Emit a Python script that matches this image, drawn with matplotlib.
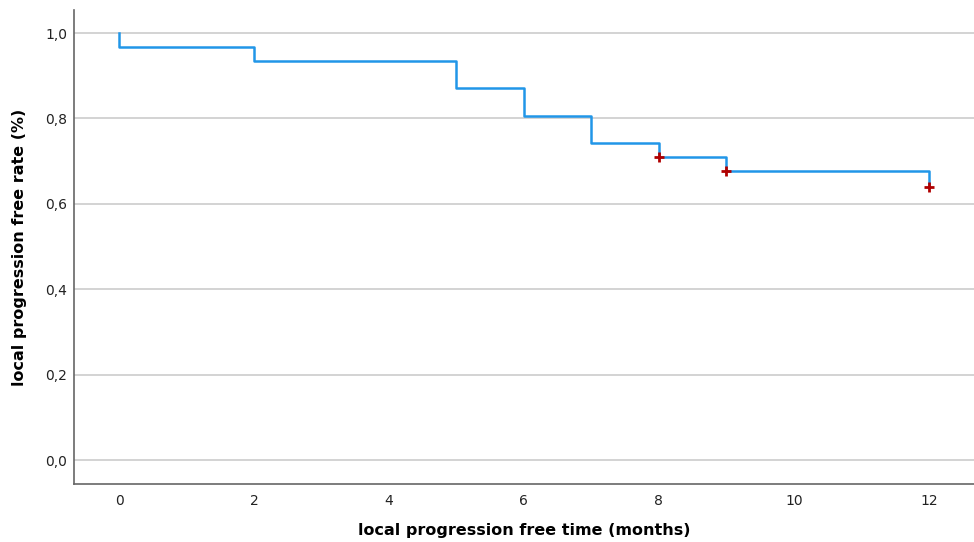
import matplotlib.pyplot as plt

# Kaplan-Meier steps (time in months, survival rate after each step)
step_times = [0, 0, 2, 5, 6, 7, 8, 9, 12]
step_surv = [1.0, 0.968, 0.935, 0.871, 0.806, 0.742, 0.710, 0.677, 0.639]
end_time = 12

# censored points
cens_times = [8, 9, 12]
cens_surv = [0.710, 0.677, 0.639]

x_ticks = [0, 2, 4, 6, 8, 10, 12]
y_ticks = [0.0, 0.2, 0.4, 0.6, 0.8, 1.0]
y_labels = ['0,0', '0,2', '0,4', '0,6', '0,8', '1,0']

fig = plt.figure(figsize=(9.74, 5.42), dpi=100)
ax = fig.add_axes([0.076, 0.107, 0.924, 0.8745])

ax.step(step_times + [end_time], step_surv + [step_surv[-1]], where='post',
        color='#2196e8', lw=1.8, zorder=3)
ax.plot(cens_times, cens_surv, ls='none', marker='+', ms=7, mew=2,
        color='#b00000', zorder=4)

ax.set_xlim(-0.667, 12.67)
ax.set_ylim(-0.056, 1.054)
ax.set_xticks(x_ticks)
ax.set_yticks(y_ticks)
ax.set_yticklabels(y_labels)
ax.tick_params(length=0, labelsize=10, colors='#222222')
ax.tick_params(axis='x', pad=7)
ax.tick_params(axis='y', pad=5)

ax.grid(axis='y', color='#cccccc', lw=1.2)
ax.set_axisbelow(True)
for s in ['top', 'right']:
    ax.spines[s].set_visible(False)
for s in ['left', 'bottom']:
    ax.spines[s].set_color('#666666')
    ax.spines[s].set_linewidth(1.2)

ax.set_xlabel('local progression free time (months)', fontsize=11.5,
              fontweight='bold', labelpad=11)
ax.set_ylabel('local progression free rate (%)', fontsize=11.5,
              fontweight='bold', labelpad=13)

fig.savefig('out.png', dpi=100)
